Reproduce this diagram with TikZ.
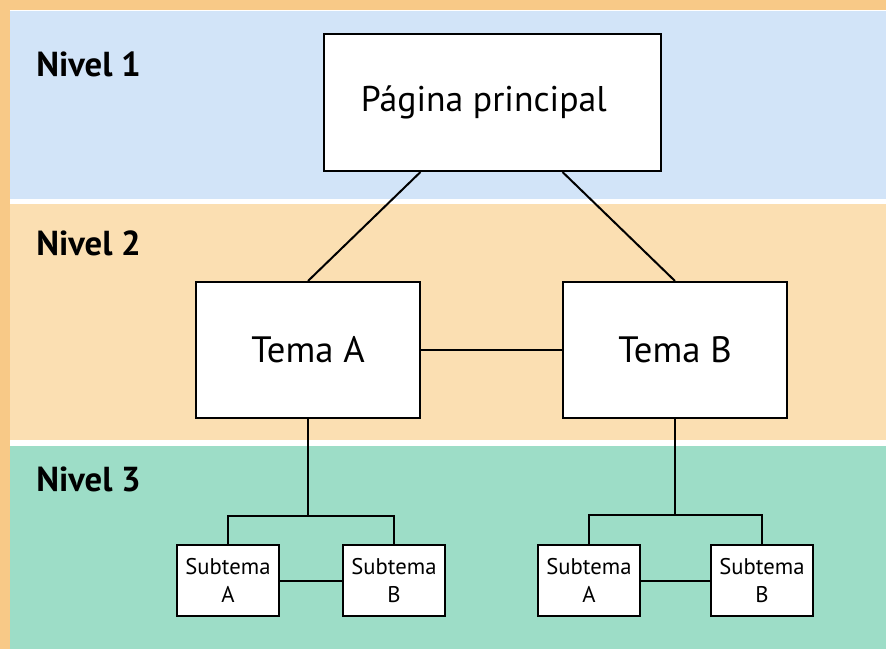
\documentclass[tikz,border=0pt]{standalone}
\usepackage{fontspec}
\setmainfont{PT Sans}

\definecolor{framecol}{RGB}{248,201,135}
\definecolor{levelone}{RGB}{210,228,248}
\definecolor{leveltwo}{RGB}{251,223,178}
\definecolor{levelthree}{RGB}{157,221,199}

\tikzset{
  box/.style={draw, line width=1.5pt, fill=white, inner sep=0pt, align=center},
  mainbox/.style={box, minimum width=252.75pt, minimum height=102.75pt, font=\fontsize{26.8}{32}\selectfont},
  topicbox/.style={box, minimum width=168pt, minimum height=102pt, font=\fontsize{27.5}{33}\selectfont},
  subbox/.style={box, minimum width=76.5pt, minimum height=53.25pt, font=\fontsize{17}{20.5}\selectfont},
  levellabel/.style={anchor=west, inner sep=0pt, font=\fontsize{26}{31}\selectfont\bfseries},
  link/.style={line width=1.5pt}
}

\begin{document}
\begin{tikzpicture}[x=0.75pt,y=0.75pt,yscale=-1,xscale=1]
\useasboundingbox (0,0) rectangle (886,649);

%Background bands
\fill[framecol] (0,0) rectangle (886,649);
\fill[white] (10,10) rectangle (886,649);
\fill[levelone] (10,11.5) rectangle (886,199);
\fill[leveltwo] (10,204) rectangle (886,440);
\fill[levelthree] (10,446) rectangle (886,649);

% Text Node
\node[levellabel] (lvlone) at (36,64) {Nivel 1};
% Text Node
\node[levellabel] (lvltwo) at (36,243) {Nivel 2};
% Text Node
\node[levellabel] (lvlthree) at (36,479) {Nivel 3};

%Shape: Rectangle
\node[mainbox] (main) at (492.5,102.5) {Página principal\hspace*{13pt}};
%Shape: Rectangle
\node[topicbox] (temaA) at (308,350) {Tema A};
%Shape: Rectangle
\node[topicbox] (temaB) at (675,350) {Tema B};

%Shape: Rectangle
\node[subbox] (subA1) at (228,580.5) {Subtema\\A};
%Shape: Rectangle
\node[subbox] (subB1) at (394,580.5) {Subtema\\B};
%Shape: Rectangle
\node[subbox] (subA2) at (589,580.5) {Subtema\\A};
%Shape: Rectangle
\node[subbox] (subB2) at (762,580.5) {Subtema\\B};

\coordinate (forkA) at (308,516);
\coordinate (forkB) at (675,515);

%Straight Lines
\draw[link] (main.south) ++(-72,0) -- (temaA.north);
\draw[link] (main.south) ++(70,0) -- (temaB.north);
\draw[link] (temaA.east) -- (temaB.west);

%Straight Lines
\draw[link] (temaA.south) -- (forkA);
\draw[link] (subA1.north) |- (forkA) -| (subB1.north);
\draw[link] (subA1.east) -- (subB1.west);

%Straight Lines
\draw[link] (temaB.south) -- (forkB);
\draw[link] (subA2.north) |- (forkB) -| (subB2.north);
\draw[link] (subA2.east) -- (subB2.west);

\end{tikzpicture}
\end{document}
